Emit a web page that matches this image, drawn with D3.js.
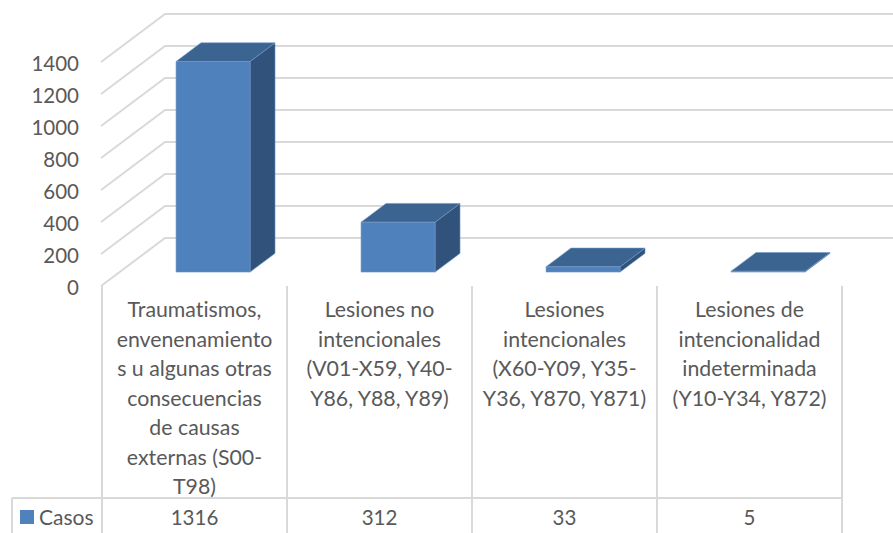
<!DOCTYPE html>
<html><head><meta charset="utf-8">
<style>html,body{margin:0;padding:0;background:#fff}svg{display:block}text{font-family:Lato,"Open Sans",sans-serif;fill:#595959;font-variant-ligatures:none}</style>
<script src="https://cdn.jsdelivr.net/npm/d3@7"></script></head><body>
<svg id="c" width="893" height="533"></svg>
<script>
const categories = ["Traumatismos","Lesiones no intencionales","Lesiones intencionales","Lesiones de intencionalidad indeterminada"];
const categoryLines = [
 ["Traumatismos,","envenenamiento","s u algunas otras","consecuencias","de causas","externas (S00-","T98)"],
 ["Lesiones no","intencionales","(V01-X59, Y40-","Y86, Y88, Y89)"],
 ["Lesiones","intencionales","(X60-Y09, Y35-","Y36, Y870, Y871)"],
 ["Lesiones de","intencionalidad","indeterminada","(Y10-Y34, Y872)"]];
const casos = [1316,312,33,5];
const seriesName = "Casos";
const yTicks = [0,200,400,600,800,1000,1200,1400];

const numSize = 20.5, labelSize = 21.3;
const svg = d3.select("#c");
const x = d3.scaleBand().domain(categories).range([102,842]);
const y = d3.scaleLinear().domain([0,1400]).range([286,62]);
const depthX = d3.scaleLinear().domain([0,1]).range([0,64]);
const depthY = d3.scaleLinear().domain([0,1]).range([0,-48]);
const grid = "#d9d9d9";

// walls
yTicks.forEach(t=>{
  svg.append("path").attr("fill","none").attr("stroke",grid).attr("stroke-width",2)
    .attr("d",d3.line()([[101,y(t)],[101+depthX(1),y(t)+depthY(1)],[893,y(t)+depthY(1)]]));
});

// table rules
const rule=(x1,y1,x2,y2)=>svg.append("line").attr("x1",x1).attr("y1",y1).attr("x2",x2).attr("y2",y2).attr("stroke",grid).attr("stroke-width",2);
rule(12,498,842,498); rule(12,498,12,533);
categories.forEach(c=>rule(x(c),286,x(c),533));
rule(842,286,842,533);

// bars
const zFront=.29, zBack=.68, barW=x.bandwidth()*.4;
categories.forEach((c,i)=>{
  const v=casos[i];
  const l=x(c)+x.bandwidth()/2-barW/2+depthX(zFront), r=l+barW;
  const b=y(0)+depthY(zFront), t=b-(y(0)-y(v));
  const dx=depthX(zBack-zFront), dy=depthY(zBack-zFront);
  const g=svg.append("g");
  const poly=(pts,f)=>g.append("path").attr("d",d3.line()(pts)+"Z").attr("fill",f).attr("stroke","#6f97c8").attr("stroke-width",.6).attr("stroke-linejoin","round");
  poly([[r,b],[r+dx,b+dy],[r+dx,t+dy],[r,t]],"#31527b");
  poly([[l,t],[r,t],[r+dx,t+dy],[l+dx,t+dy]],"#3c6491");
  poly([[l,b],[r,b],[r,t],[l,t]],"#4f81bd");
});

// value axis
const ax=svg.append("g").attr("transform","translate(79,1.5)")
  .call(d3.axisLeft(y).tickValues(yTicks).tickSize(0).tickPadding(0).tickFormat(d3.format("d")));
ax.select(".domain").remove();
ax.selectAll("text").style("font-family",'Lato,"Open Sans",sans-serif').style("font-size",numSize+"px").style("fill","#595959");

// category labels
categories.forEach((c,i)=>{
  const cx=x(c)+x.bandwidth()/2;
  const tx=svg.append("text").attr("text-anchor","middle").style("font-size",labelSize+"px");
  categoryLines[i].forEach((ln,j)=>tx.append("tspan").attr("x",cx).attr("y",317+j*29.5).text(ln));
  svg.append("text").attr("text-anchor","middle").attr("x",cx).attr("y",525).style("font-size",numSize+"px").text(casos[i]);
});

// legend key
svg.append("rect").attr("x",20).attr("y",510).attr("width",14).attr("height",14).attr("fill","#4f81bd");
svg.append("text").attr("x",39).attr("y",524.5).style("font-size","21px").text(seriesName);
</script></body></html>
